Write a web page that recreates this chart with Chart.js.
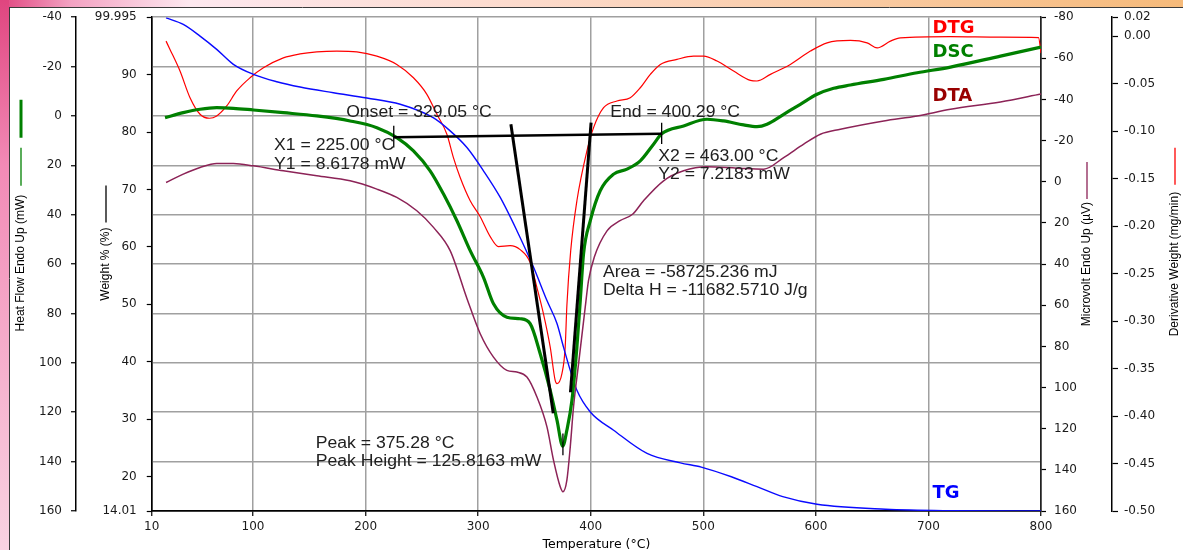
<!DOCTYPE html>
<html>
<head>
<meta charset="utf-8">
<script src="https://cdn.jsdelivr.net/npm/chart.js@4.4.1/dist/chart.umd.min.js"></script>
<style>
html,body{margin:0;padding:0;background:#fff;overflow:hidden}
canvas{display:block}
</style>
</head>
<body>
<canvas id="c" width="1183" height="550"></canvas>
<script>
// ---------- data ----------
// TG : weight % vs temperature
const tgT = [22.7,38.0,52.9,67.7,82.5,100.3,121.1,141.8,171.4,201.1,230.7,260.0,275.1,290.0,304.7,319.6,334.4,349.2,361.1,370.0,375.8,381.8,387.7,399.6,420.3,450.0,479.6,498.2,524.9,547.7,570.6,601.0,661.8,718.7,800];
const tgW = [99.87,98.73,96.70,94.39,91.78,90.04,88.76,87.84,86.85,85.92,84.83,82.50,80.20,77.30,73.25,68.61,62.82,56.45,50.66,46.67,42.55,38.50,35.03,31.26,28.08,24.04,22.40,21.66,19.97,18.24,16.50,15.18,14.31,14.07,14.01];

// DSC : heat flow (mW)
const dscT = [21.8,38.0,52.9,67.7,82.5,100.3,126.9,156.6,186.2,210.0,227.7,242.5,257.3,269.2,281.1,292.9,304.7,313.6,325.5,337.3,346.2,355.1,364.0,370.0,375.1,378.8,383.3,387.7,390.7,393.6,399.6,408.4,420.3,432.2,444.0,455.8,463.0,482.5,503.3,518.0,535.8,547.7,556.6,571.4,586.2,601.1,615.8,630.7,660.3,690.0,719.6,764.0,800];
const dscHF = [0.69,-1.33,-2.71,-3.35,-3.11,-2.42,-1.33,0.0,2.02,4.73,8.77,14.14,22.22,31.64,42.42,54.55,65.33,76.08,81.49,82.14,84.16,96.28,111.11,123.23,133.74,127.27,115.15,93.62,74.75,55.88,42.42,30.30,23.56,21.54,18.18,11.43,7.22,4.04,1.33,2.02,3.64,4.32,3.35,-0.69,-4.73,-8.77,-11.19,-12.53,-14.83,-17.49,-19.80,-24.24,-27.88];

// DTA : microvolt
const dtaT = [22.7,38.0,52.9,67.7,82.5,100.3,126.9,156.6,186.2,210.0,227.7,245.5,260.3,275.1,290.0,301.8,313.6,325.5,334.4,343.3,352.2,361.1,366.9,372.9,375.3,378.8,381.8,384.7,389.2,395.1,398.0,403.1,414.6,426.0,437.4,446.9,464.7,482.5,503.3,530.0,553.6,571.4,589.2,604.0,621.8,660.3,690.0,719.6,764.0,800];
const dtaUV = [0.34,-3.73,-6.93,-8.87,-8.87,-7.76,-5.33,-2.91,-0.48,3.54,7.61,14.06,22.16,33.45,56.7,73.84,85.19,91.64,92.46,94.88,104.58,119.13,135.27,148.22,150.64,144.97,128.82,109.43,88.39,60.95,48.0,36.70,23.76,18.91,15.66,9.21,-0.48,-5.33,-7.27,-6.64,-6.16,-11.78,-18.28,-23.13,-25.55,-29.58,-32.0,-35.25,-38.79,-42.67];

// DTG : derivative weight (mg/min)
const dtgT = [22.7,26.2,35.1,44.0,52.9,61.2,67.7,76.6,85.5,97.3,109.2,126.9,141.8,156.6,174.4,192.2,210.0,227.7,242.5,254.4,263.3,272.2,278.0,284.0,292.9,301.8,310.7,318.0,328.4,337.3,346.2,352.2,358.0,364.0,368.4,370.0,374.4,377.3,378.8,382.2,387.7,396.6,402.5,411.4,423.3,435.1,444.0,452.9,461.8,476.6,491.4,500.3,512.2,526.9,541.8,547.7,559.6,577.3,595.1,610.0,630.7,645.5,654.4,666.2,675.1,719.6,764.0,797.8,800];
const dtgD = [-0.0052,-0.0139,-0.0367,-0.0648,-0.0822,-0.0864,-0.0840,-0.0735,-0.0577,-0.0438,-0.0333,-0.0228,-0.0186,-0.0165,-0.0157,-0.0165,-0.0210,-0.0297,-0.0438,-0.0612,-0.0822,-0.1032,-0.1278,-0.1488,-0.1733,-0.1901,-0.2111,-0.2216,-0.2206,-0.2248,-0.2384,-0.2647,-0.2923,-0.3274,-0.3624,-0.3658,-0.3553,-0.3274,-0.2836,-0.2258,-0.1733,-0.1208,-0.0963,-0.0753,-0.0682,-0.0648,-0.0543,-0.0402,-0.0297,-0.0244,-0.0210,-0.0210,-0.0262,-0.0367,-0.0465,-0.0472,-0.0402,-0.0297,-0.0157,-0.0070,-0.0045,-0.0070,-0.0123,-0.0052,-0.0017,-0.0005,-0.0010,-0.0015,-0.0178];

// DSC peak analysis constructions (temperature, mW)
const baseT = [225.00, 463.00];
const baseHF = [8.6178, 7.2183];
const x1TickT = [225.00, 225.00];
const x1TickHF = [4.0, 12.8];
const x2TickT = [463.00, 463.00];
const x2TickHF = [2.7, 11.4];
const onsetTanT = [329.05, 366.7];
const onsetTanHF = [3.35, 120.4];
const endTanT = [400.29, 382.0];
const endTanHF = [2.7, 111.9];
const peakTickT = [375.28, 375.28];
const peakTickHF = [128.6, 137.4];

// tick labels
const xTicks = [10,100,200,300,400,500,600,700,800];
const hfTicks = [-40,-20,0,20,40,60,80,100,120,140,160];
const wTicks = [14.01,20,30,40,50,60,70,80,90,99.995];
const uvTicks = [-80,-60,-40,-20,0,20,40,60,80,100,120,140,160];
const dTicks = [0.02,0.00,-0.05,-0.10,-0.15,-0.20,-0.25,-0.30,-0.35,-0.40,-0.45,-0.50];

// ---------- helpers ----------
const pts = (xs, ys) => xs.map((v, i) => ({x: v, y: ys[i]}));
const GRID = '#a0a0a0';
const TICKFONT = {family: 'DejaVu Sans', size: 12};

function lineDs(label, xs, ys, axis, color, width, order, smooth) {
  return {
    label, data: pts(xs, ys), yAxisID: axis, borderColor: color, borderWidth: width,
    pointRadius: 0, fill: false, order,
    tension: 0, cubicInterpolationMode: smooth ? 'monotone' : 'default'
  };
}

const datasets = [
  lineDs('DTG', dtgT, dtgD, 'yD', '#ff0000', 1.2, 6, true),
  lineDs('TG', tgT, tgW, 'yW', '#0a0aff', 1.4, 5, true),
  lineDs('DTA', dtaT, dtaUV, 'yUV', '#8c2357', 1.5, 4, true),
  lineDs('DSC', dscT, dscHF, 'yHF', '#008000', 3.2, 3, true),
  lineDs('base', baseT, baseHF, 'yHF', '#000', 2.4, 1, false),
  lineDs('x1', x1TickT, x1TickHF, 'yHF', '#000', 1.3, 1, false),
  lineDs('x2', x2TickT, x2TickHF, 'yHF', '#000', 1.3, 1, false),
  lineDs('onset', onsetTanT, onsetTanHF, 'yHF', '#000', 3, 1, false),
  lineDs('end', endTanT, endTanHF, 'yHF', '#000', 3, 1, false),
  lineDs('peak', peakTickT, peakTickHF, 'yHF', '#000', 1.3, 1, false)
];

function setTicks(arr) { return s => { s.ticks = arr.map(v => ({value: v})); }; }

const scales = {
  x: {
    type: 'linear', position: 'bottom', min: 10, max: 800,
    afterBuildTicks: setTicks(xTicks),
    afterFit: s => { s.height = 39; },
    ticks: {font: TICKFONT, color: '#1a1a1a', padding: 4, maxRotation: 0, autoSkip: false},
    grid: {
      color: c => (c.tick && (c.tick.value === 10 || c.tick.value === 800)) ? '#222' : GRID,
      lineWidth: 1.5, tickLength: 5, tickColor: '#000', tickWidth: 1.2
    },
    border: {color: '#000', width: 1.5}
  },
  yHF: {
    type: 'linear', position: 'left', weight: 2, min: -40, max: 160, reverse: true,
    afterBuildTicks: setTicks(hfTicks),
    afterFit: s => { s.width = 76; },
    ticks: {font: TICKFONT, color: '#1a1a1a', padding: 9, callback: v => String(v)},
    grid: {
      color: c => (c.tick && c.tick.value === 160) ? '#000' : GRID,
      lineWidth: 1.5, tickLength: 5, tickColor: '#000', tickWidth: 1.2
    },
    border: {color: '#000', width: 1.5}
  },
  yW: {
    type: 'linear', position: 'left', weight: 1, min: 14.01, max: 99.995,
    afterBuildTicks: setTicks(wTicks),
    afterFit: s => { s.width = 75.75; },
    ticks: {font: TICKFONT, color: '#1a1a1a', padding: 10, callback: v => String(v)},
    grid: {drawOnChartArea: false, tickLength: 5, tickColor: '#000', tickWidth: 1.2},
    border: {color: '#000', width: 1.5}
  },
  yUV: {
    type: 'linear', position: 'right', weight: 1, min: -80, max: 160, reverse: true,
    afterBuildTicks: setTicks(uvTicks),
    afterFit: s => { s.width = 71; },
    ticks: {font: TICKFONT, color: '#1a1a1a', padding: 8, callback: v => String(v)},
    grid: {drawOnChartArea: false, tickLength: 5, tickColor: '#000', tickWidth: 1.2},
    border: {color: '#222', width: 1.5}
  },
  yD: {
    type: 'linear', position: 'right', weight: 2, min: -0.50, max: 0.02,
    afterBuildTicks: setTicks(dTicks),
    afterFit: s => { s.width = 71; },
    ticks: {font: TICKFONT, color: '#1a1a1a', padding: 6, callback: v => Number(v).toFixed(2)},
    grid: {drawOnChartArea: false, tickLength: 6, tickColor: '#000', tickWidth: 1.2},
    border: {color: '#000', width: 1.5}
  }
};

// ---------- decoration / text plugin ----------
const annotations = [
  {text: 'Onset = 329.05 °C', t: 182.7, hf: -1.2},
  {text: 'X1 = 225.00 °C', t: 118.7, hf: 12.1},
  {text: 'Y1 = 8.6178 mW', t: 118.7, hf: 19.8},
  {text: 'End = 400.29 °C', t: 417.3, hf: -1.3},
  {text: 'X2 = 463.00 °C', t: 460.0, hf: 16.4},
  {text: 'Y2 = 7.2183 mW', t: 460.0, hf: 23.8},
  {text: 'Area = -58725.236 mJ', t: 410.8, hf: 63.3},
  {text: 'Delta H = -11682.5710 J/g', t: 410.8, hf: 70.7},
  {text: 'Peak = 375.28 °C', t: 155.7, hf: 132.6},
  {text: 'Peak Height = 125.8163 mW', t: 155.7, hf: 140.1}
];
const curveLabels = [
  {text: 'DTG', color: '#ff0000', t: 703.6, hf: -35.6},
  {text: 'DSC', color: '#008000', t: 703.6, hf: -25.9},
  {text: 'DTA', color: '#990000', t: 703.6, hf: -8.1},
  {text: 'TG', color: '#0000ff', t: 703.6, hf: 152.7}
];

function vTitle(c, text, x, cy, samples) {
  c.save();
  c.font = '12px "Liberation Sans", Arial, sans-serif';
  const w = c.measureText(text).width;
  c.translate(x, cy);
  c.rotate(-Math.PI / 2);
  c.textAlign = 'center';
  c.textBaseline = 'middle';
  c.fillStyle = '#000';
  c.fillText(text, 0, 0);
  c.restore();
  const top = cy - w / 2;
  samples.forEach(s => {
    c.save();
    c.strokeStyle = s.color; c.lineWidth = s.width;
    c.beginPath(); c.moveTo(x, top - s.from); c.lineTo(x, top - s.to); c.stroke();
    c.restore();
  });
}

// text drawn slightly widened, like the original screen rendering
function wideText(c, text, x, y, sx) {
  c.save();
  c.translate(x, y);
  c.scale(sx, 1);
  c.fillText(text, 0, 0);
  c.restore();
}

const decor = {
  id: 'decor',
  beforeDraw(chart) {
    const c = chart.ctx, W = chart.width, H = chart.height;
    c.save();
    c.fillStyle = '#fff'; c.fillRect(0, 0, W, H);
    let g = c.createLinearGradient(0, 0, W, 0);
    g.addColorStop(0, '#e0457f'); g.addColorStop(0.06, '#f3a2c2'); g.addColorStop(0.16, '#fde8ef');
    g.addColorStop(0.45, '#fcdacb'); g.addColorStop(1, '#f6ba7a');
    c.fillStyle = g; c.fillRect(0, 0, W, 7);
    g = c.createLinearGradient(0, 0, 0, H);
    g.addColorStop(0, '#e0457f'); g.addColorStop(0.3, '#f28ab6'); g.addColorStop(1, '#f9d3e2');
    c.fillStyle = g; c.fillRect(0, 0, 9, H);
    c.strokeStyle = '#3a3a3a'; c.lineWidth = 1;
    c.beginPath(); c.moveTo(9, 7.5); c.lineTo(W, 7.5); c.moveTo(9.5, 7); c.lineTo(9.5, H); c.stroke();
    c.restore();
  },
  afterDraw(chart) {
    const c = chart.ctx, xs = chart.scales.x, ys = chart.scales.yHF;
    c.save();
    c.textAlign = 'left'; c.textBaseline = 'middle';
    c.font = '16px "Liberation Sans", Arial, sans-serif';
    c.fillStyle = '#202020';
    annotations.forEach(a => wideText(c, a.text, xs.getPixelForValue(a.t), ys.getPixelForValue(a.hf), 1.1));
    c.font = 'bold 18px "DejaVu Sans", sans-serif';
    curveLabels.forEach(a => { c.fillStyle = a.color; c.fillText(a.text, xs.getPixelForValue(a.t), ys.getPixelForValue(a.hf)); });
    c.restore();

    // x axis title
    c.save();
    c.font = '12.5px "DejaVu Sans", sans-serif';
    c.fillStyle = '#000'; c.textAlign = 'center'; c.textBaseline = 'middle';
    c.fillText('Temperature (°C)', (chart.chartArea.left + chart.chartArea.right) / 2, 545);
    c.restore();

    const cy = (chart.chartArea.top + chart.chartArea.bottom) / 2;
    vTitle(c, 'Heat Flow Endo Up (mW)', 21, cy - 1, [
      {color: '#008000', width: 1.3, from: 9, to: 47},
      {color: '#008000', width: 3, from: 57, to: 95}
    ]);
    vTitle(c, 'Weight % (%)', 106, cy, [{color: '#000', width: 1.3, from: 5, to: 42}]);
    vTitle(c, 'Microvolt Endo Up (µV)', 1087, cy, [{color: '#8c2357', width: 1.3, from: 3, to: 40}]);
    vTitle(c, 'Derivative Weight (mg/min)', 1175, cy, [{color: '#ff0000', width: 1.3, from: 7, to: 44}]);
  }
};

new Chart(document.getElementById('c'), {
  type: 'line',
  data: {datasets},
  options: {
    responsive: false,
    animation: false,
    parsing: false,
    normalized: true,
    layout: {padding: {top: 16.5, left: 0, right: 0, bottom: 0}},
    plugins: {legend: {display: false}, tooltip: {enabled: false}},
    scales
  },
  plugins: [decor]
});
</script>
</body>
</html>
